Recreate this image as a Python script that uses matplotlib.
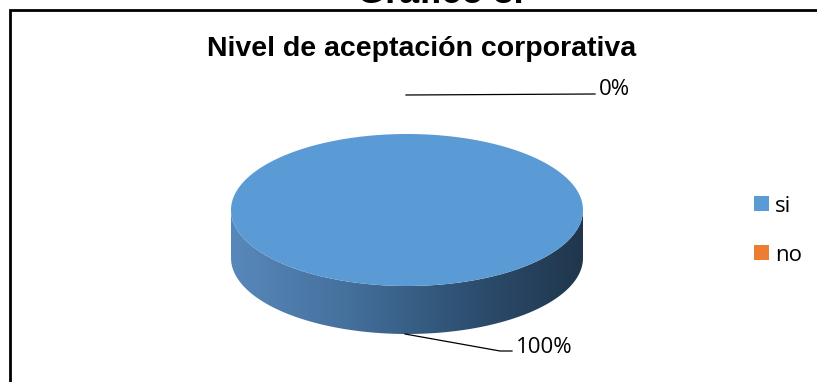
import numpy as np
import matplotlib.pyplot as plt
from matplotlib.patches import Polygon
from matplotlib.colors import LinearSegmentedColormap

# Datos del gráfico
categorias = ['si', 'no']
valores = [100, 0]
etiquetas = ['100%', '0%']
colores = ['#5b9bd5', '#ed7d31']

W, H = 817, 382
fig = plt.figure(figsize=(W / 100, H / 100), dpi=100)
ax = fig.add_axes([0, 0, 1, 1])

plt.rcParams['font.family'] = ['Liberation Sans', 'DejaVu Sans']
fuente_et = ['Open Sans', 'DejaVu Sans']

# Geometría del pastel 3D (coordenadas en píxeles)
cx, cy = 407, 210
a, b = 176, 76
prof = 48

total = sum(valores)
ang0 = 90.0

# Lado (mitad delantera) con degradado
t_front = np.linspace(0, np.pi, 200)
top_x = cx + a * np.cos(t_front)
top_y = cy + b * np.sin(t_front)
side = np.concatenate([np.column_stack([top_x, top_y]),
                       np.column_stack([top_x[::-1], top_y[::-1] + prof])])
side_poly = Polygon(side, closed=True, facecolor='none', edgecolor='none')
ax.add_patch(side_poly)
cmap = LinearSegmentedColormap.from_list('lado', ['#5888bb', '#44709c', '#2e5072', '#20364c'])
grad = np.linspace(0, 1, 256).reshape(1, -1)
im = ax.imshow(grad, cmap=cmap, extent=[cx - a, cx + a, cy + b + prof, cy - 5],
               aspect='auto', zorder=1)
im.set_clip_path(side_poly)

# Cara superior, una cuña por categoría
inicio = ang0
for val, col in zip(valores, colores):
    barrido = 360.0 * val / total
    if barrido > 0:
        th = np.radians(np.linspace(inicio, inicio - barrido, 300))
        xs = cx + a * np.cos(th)
        ys = cy - b * np.sin(th)
        if barrido < 360:
            xs = np.concatenate([[cx], xs])
            ys = np.concatenate([[cy], ys])
        ax.add_patch(Polygon(np.column_stack([xs, ys]), closed=True,
                             facecolor=col, edgecolor='none', zorder=2))
    inicio -= barrido

# Etiquetas de datos con líneas guía
ax.plot([405, 500, 512], [334, 351, 351], color='black', lw=0.9, zorder=3)
ax.text(516, 353, etiquetas[0], fontsize=16, family=fuente_et, va='baseline', ha='left')
ax.plot([406, 595], [95, 94], color='black', lw=0.9, zorder=3)
ax.text(599, 95, etiquetas[1], fontsize=16, family=fuente_et, va='baseline', ha='left')

# Leyenda
for i, (cat, col) in enumerate(zip(categorias, colores)):
    y = 196 + i * 49
    ax.add_patch(Polygon([[754, y], [769, y], [769, y + 15], [754, y + 15]],
                         closed=True, facecolor=col, edgecolor='none'))
    ax.text(775, y + 16, cat, fontsize=16, family=fuente_et, va='baseline', ha='left')

# Títulos
ax.text(422, 56, 'Nivel de aceptación corporativa', fontsize=20.5, fontweight='bold',
        ha='center', va='baseline')
ax.text(440, 3, 'Gráfico 8.', fontsize=26, fontweight='bold', ha='center', va='baseline')

# Marco
ax.plot([10, 10, W], [H, 10, 10], color='black', lw=2, solid_joinstyle='miter')

ax.set_xlim(0, W)
ax.set_ylim(H, 0)
ax.axis('off')

fig.savefig('out.png', dpi=100)
